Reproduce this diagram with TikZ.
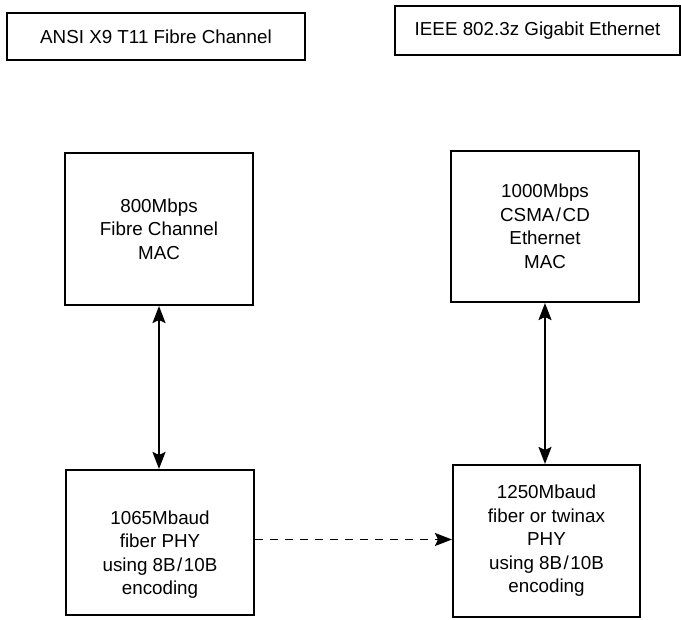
\documentclass[tikz,border=0pt]{standalone}
\usepackage{fontspec}
\setmainfont{Liberation Sans}
\usetikzlibrary{arrows.meta}
\tikzset{
  boxframe/.style={draw, line width=2.1pt, inner sep=0pt, align=center,
    font=\fontsize{18.8}{23.5}\selectfont},
  boxtext/.style={inner sep=0pt, align=center, font=\fontsize{18.8}{23.5}\selectfont},
  tip/.tip={Stealth[length=17pt,width=13pt,inset=3pt]},
  link/.style={line width=1.8pt, tip-tip},
  dlink/.style={line width=1.8pt, dash pattern=on 8pt off 7pt, -tip}
}
\begin{document}
\begin{tikzpicture}[x=1pt,y=-1pt]
\useasboundingbox (0,0) rectangle (681,620);
% top labels
\node[boxframe, minimum width=298pt, minimum height=47pt] (ansi) at (156,36.5) {ANSI X9 T11 Fibre Channel};
\node[boxframe, minimum width=285pt, minimum height=49pt] (ieee) at (537.5,30.5) {IEEE 802.3z Gigabit Ethernet};
% MAC boxes
\node[boxframe, minimum width=188pt, minimum height=152pt] (macL) at (159,229) {800Mbps\\Fibre Channel\\MAC};
\node[boxframe, minimum width=188pt, minimum height=151pt] (macR) at (545,226.5) {1000Mbps\\CSMA\kern1.5pt/\kern1.5pt CD\\Ethernet\\MAC};
% PHY boxes
\node[boxframe, minimum width=188pt, minimum height=145pt] (phyL) at (160,542.5) {};
\node[boxtext] (phyLtext) at ([yshift=-12pt]phyL.center) {1065Mbaud\\fiber PHY\\using 8B\kern1.5pt/\kern1.5pt10B\\encoding};
\node[boxframe, minimum width=187pt, minimum height=152pt] (phyR) at (546.5,541) {1250Mbaud\\fiber or twinax\\PHY\\using 8B\kern1.5pt/\kern1.5pt10B\\encoding};
% connectors
\draw[link] (macL.south) -- (macL.south |- phyL.north);
\draw[link] (macR.south) -- (macR.south |- phyR.north);
\draw[dlink] ([yshift=3pt]phyL.east) -- ([yshift=3pt]phyL.east -| phyR.west);
\end{tikzpicture}
\end{document}
